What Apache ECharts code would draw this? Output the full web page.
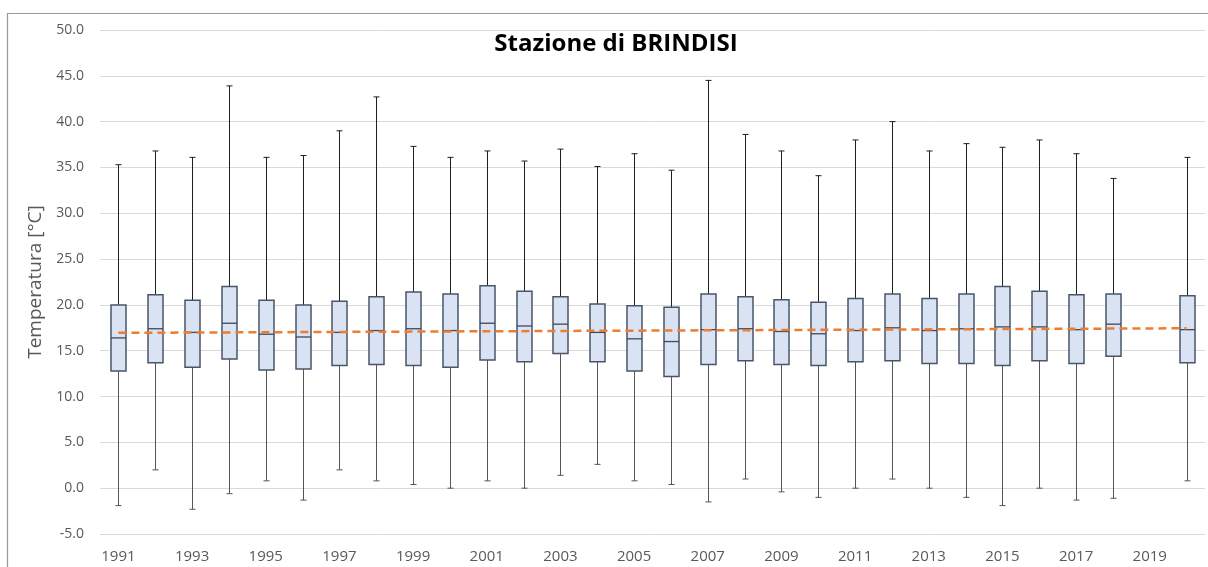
<!DOCTYPE html>
<html>
<head>
    <meta charset="utf-8">
    <title>Stazione di BRINDISI</title>
    <script src="https://cdn.jsdelivr.net/npm/echarts@6/dist/echarts.min.js"></script>
    <style>
        html, body { margin: 0; padding: 0; background: #fff; }
    </style>
</head>
<body>
    <div id="main" style="width: 1208px;height:567px;"></div>
    <script type="text/javascript">
        // anni (il 2019 non ha dati)
        var years = ['1991','1992','1993','1994','1995','1996','1997','1998','1999','2000',
                     '2001','2002','2003','2004','2005','2006','2007','2008','2009','2010',
                     '2011','2012','2013','2014','2015','2016','2017','2018','2019','2020'];
        var tMin = [-1.9, 2.0, -2.3, -0.6, 0.8, -1.3, 2.0, 0.8, 0.4, 0.0,
                    0.8, 0.0, 1.4, 2.6, 0.8, 0.4, -1.5, 1.0, -0.4, -1.0,
                    0.0, 1.0, 0.0, -1.0, -1.9, 0.0, -1.3, -1.1, null, 0.8];
        var tQ1 = [12.8, 13.7, 13.2, 14.1, 12.9, 13.0, 13.4, 13.5, 13.4, 13.2,
                   14.0, 13.8, 14.7, 13.8, 12.8, 12.2, 13.5, 13.9, 13.5, 13.4,
                   13.8, 13.9, 13.6, 13.6, 13.4, 13.9, 13.6, 14.4, null, 13.7];
        var tMed = [16.4, 17.4, 17.0, 18.0, 16.8, 16.5, 17.0, 17.2, 17.4, 17.2,
                    18.0, 17.7, 17.9, 17.0, 16.3, 16.0, 17.3, 17.4, 17.1, 16.85,
                    17.2, 17.5, 17.2, 17.4, 17.6, 17.6, 17.3, 17.9, null, 17.3];
        var tQ3 = [20.0, 21.1, 20.5, 22.0, 20.5, 20.0, 20.4, 20.9, 21.4, 21.2,
                   22.1, 21.5, 20.9, 20.1, 19.9, 19.75, 21.2, 20.9, 20.55, 20.3,
                   20.7, 21.2, 20.7, 21.2, 22.0, 21.5, 21.1, 21.2, null, 21.0];
        var tMax = [35.3, 36.8, 36.1, 43.9, 36.1, 36.3, 39.0, 42.7, 37.3, 36.1,
                    36.8, 35.7, 37.0, 35.1, 36.5, 34.7, 44.5, 38.6, 36.8, 34.1,
                    38.0, 40.0, 36.8, 37.6, 37.2, 38.0, 36.5, 33.8, null, 36.1];
        // linea di tendenza: valore al primo e all'ultimo anno
        var trendYears = ['1991', '2020'];
        var trendValues = [16.95, 17.45];

        var boxData = [];
        for (var i = 0; i < years.length; i++) {
            if (tMin[i] === null) continue;
            boxData.push([i, tMin[i], tQ1[i], tMed[i], tQ3[i], tMax[i]]);
        }
        var trendData = [];
        for (var k = 0; k < trendYears.length; k++) {
            trendData.push([trendYears[k], trendValues[k]]);
        }

        var myChart = echarts.init(document.getElementById('main'));

        function renderBox(params, api) {
            var x = api.value(0);
            var pMin = api.coord([x, api.value(1)]);
            var pQ1 = api.coord([x, api.value(2)]);
            var pMed = api.coord([x, api.value(3)]);
            var pQ3 = api.coord([x, api.value(4)]);
            var pMax = api.coord([x, api.value(5)]);
            var cx = Math.round(pMed[0]) + 0.5;
            var bw = 15, cw = 3;
            var whisker = { stroke: '#1f1f1f', lineWidth: 1 };
            var boxStroke = { fill: '#dae3f3', stroke: '#4a5568', lineWidth: 1.5 };
            return {
                type: 'group',
                children: [
                    { type: 'line', shape: { x1: cx, y1: pMax[1], x2: cx, y2: pQ3[1] }, style: whisker },
                    { type: 'line', shape: { x1: cx - cw, y1: pMax[1], x2: cx + cw, y2: pMax[1] }, style: whisker },
                    { type: 'line', shape: { x1: cx, y1: pQ1[1], x2: cx, y2: pMin[1] }, style: { stroke: '#555', lineWidth: 1 } },
                    { type: 'line', shape: { x1: cx - cw, y1: pMin[1], x2: cx + cw, y2: pMin[1] }, style: { stroke: '#555', lineWidth: 1 } },
                    { type: 'rect', shape: { x: cx - bw / 2, y: pQ3[1], width: bw, height: pQ1[1] - pQ3[1] }, style: boxStroke },
                    { type: 'line', shape: { x1: cx - bw / 2, y1: pMed[1], x2: cx + bw / 2, y2: pMed[1] }, style: { stroke: '#3d4a5c', lineWidth: 1.3 } }
                ]
            };
        }

        var option = {
            animation: false,
            textStyle: { fontFamily: 'Open Sans' },
            title: {
                text: 'Stazione di BRINDISI',
                left: 611,
                textAlign: 'center',
                top: 27,
                textStyle: { fontFamily: 'Open Sans', fontWeight: 'bold', fontSize: 24, color: '#000' }
            },
            graphic: [{
                type: 'rect',
                shape: { x: 7.5, y: 13.5, width: 1220, height: 580 },
                style: { fill: 'none', stroke: '#999', lineWidth: 1.2 },
                silent: true
            }],
            grid: { left: 100, right: 3, top: 30, bottom: 33 },
            xAxis: {
                type: 'category',
                data: years,
                boundaryGap: true,
                axisLine: { show: false },
                axisTick: { show: false },
                axisLabel: { interval: 1, color: '#595959', fontSize: 15, margin: 15 },
                splitLine: { show: false }
            },
            yAxis: {
                type: 'value',
                min: -5,
                max: 50,
                interval: 5,
                name: 'Temperatura [°C]',
                nameLocation: 'middle',
                nameGap: 54,
                nameTextStyle: { color: '#595959', fontSize: 19 },
                axisLine: { show: false },
                axisTick: { show: false },
                axisLabel: {
                    color: '#595959', fontSize: 14, margin: 16,
                    formatter: function (v) { return v.toFixed(1); }
                },
                splitLine: { lineStyle: { color: '#d9d9d9', width: 1 } }
            },
            series: [{
                type: 'custom',
                renderItem: renderBox,
                encode: { x: 0, y: [1, 2, 3, 4, 5] },
                data: boxData,
                z: 2
            }, {
                type: 'line',
                data: trendData,
                symbol: 'none',
                lineStyle: { color: '#ed7d31', width: 2.5, type: [8, 5] },
                z: 3
            }]
        };

        myChart.setOption(option);
    </script>
</body>
</html>
